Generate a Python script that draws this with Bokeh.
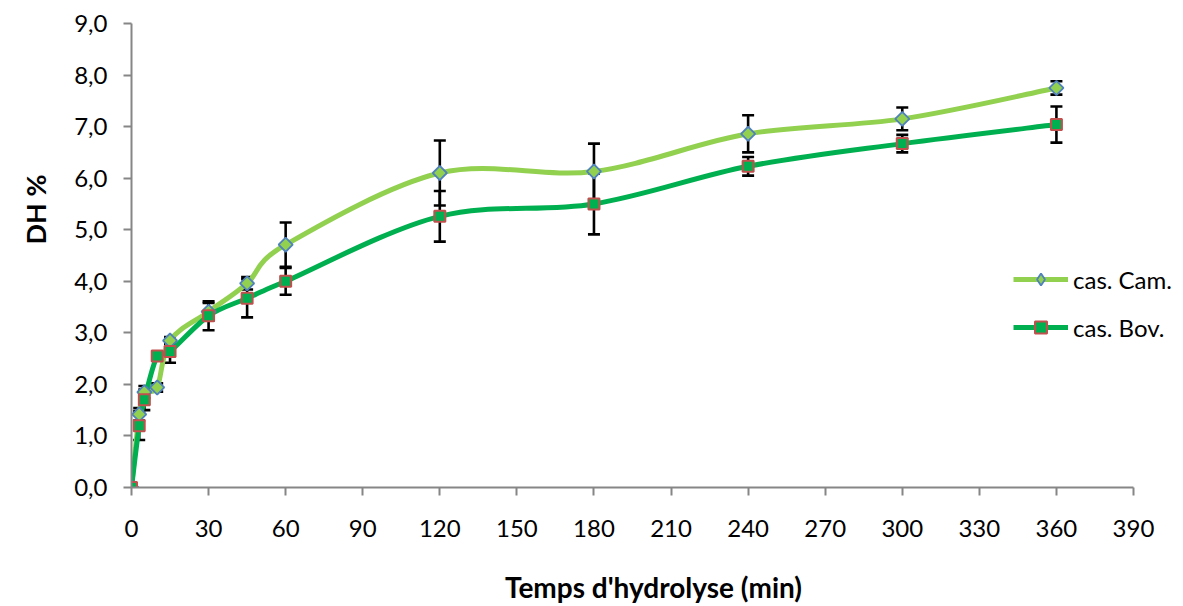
import numpy as np
from bokeh.plotting import figure
from bokeh.models import (Range1d, FixedTicker, ColumnDataSource, Whisker, TeeHead,
                          Legend, LegendItem, Title)
from bokeh.embed import file_html
from bokeh.resources import INLINE

# ---- data ----
time_min = [0, 3, 5, 10, 15, 30, 45, 60, 120, 180, 240, 300, 360]
cas_cam = [0, 1.42, 1.85, 1.94, 2.85, 3.41, 3.96, 4.71, 6.10, 6.13, 6.86, 7.15, 7.75]
cas_cam_err = [0, 0.12, 0.12, 0.08, 0.07, 0.17, 0.12, 0.43, 0.63, 0.54, 0.36, 0.22, 0.13]
cas_bov = [0, 1.20, 1.70, 2.55, 2.64, 3.33, 3.67, 4.00, 5.26, 5.50, 6.23, 6.67, 7.04]
cas_bov_err = [0, 0.28, 0.20, 0.05, 0.22, 0.28, 0.37, 0.26, 0.49, 0.59, 0.18, 0.17, 0.35]
x_ticks = list(range(0, 391, 30))
y_ticks = [0, 1, 2, 3, 4, 5, 6, 7, 8, 9]
y_tick_labels = ["0,0", "1,0", "2,0", "3,0", "4,0", "5,0", "6,0", "7,0", "8,0", "9,0"]
series_names = ["cas. Cam.", "cas. Bov."]

FONT = "Lato"
AXIS_GREY = "#868686"
CAM_LINE = "#92D050"
BOV_LINE = "#00B050"

W, H = 1183, 606
LEFT, TOP, BOTTOM, RIGHT = 131, 23, 115, 8
AXIS_PX = 1002          # pixels covered by the 0..390 axis
X_MAX = 390 * (W - LEFT - RIGHT) / AXIS_PX


def smooth_segments(xs, ys):
    """Catmull-Rom style Bezier control points (Excel-like smoothed line)."""
    xs = np.asarray(xs, float)
    ys = np.asarray(ys, float)
    n = len(xs)
    d = dict(x0=[], y0=[], x1=[], y1=[], cx0=[], cy0=[], cx1=[], cy1=[])
    for i in range(n - 1):
        p0 = max(i - 1, 0)
        p3 = min(i + 2, n - 1)
        d["x0"].append(xs[i]); d["y0"].append(ys[i])
        d["x1"].append(xs[i + 1]); d["y1"].append(ys[i + 1])
        d["cx0"].append(xs[i] + (xs[i + 1] - xs[p0]) / 6.0)
        d["cy0"].append(ys[i] + (ys[i + 1] - ys[p0]) / 6.0)
        d["cx1"].append(xs[i + 1] - (xs[p3] - xs[i]) / 6.0)
        d["cy1"].append(ys[i + 1] - (ys[p3] - ys[i]) / 6.0)
    return ColumnDataSource(d)


p = figure(width=W, height=H, x_range=Range1d(0, X_MAX), y_range=Range1d(0, 9),
           output_backend="svg", toolbar_location=None,
           min_border_left=LEFT, min_border_right=RIGHT, min_border_top=TOP,
           min_border_bottom=BOTTOM)
p.outline_line_color = None
p.grid.visible = False
p.background_fill_color = "white"
p.border_fill_color = "white"

# axes
for ax in (p.xaxis[0], p.yaxis[0]):
    ax.axis_line_color = AXIS_GREY
    ax.axis_line_width = 2
    ax.major_tick_line_color = AXIS_GREY
    ax.major_tick_line_width = 2
    ax.major_tick_out = 8
    ax.major_tick_in = 0
    ax.minor_tick_line_color = None
    ax.major_label_text_font = FONT
    ax.major_label_text_font_size = "24px"
    ax.major_label_text_color = "black"

p.xaxis.ticker = FixedTicker(ticks=x_ticks)
p.xaxis.bounds = (0, 390)
p.xaxis.major_label_standoff = 24
p.xaxis.axis_label = "Temps d'hydrolyse (min)"
p.xaxis.axis_label_text_font = FONT
p.xaxis.axis_label_text_font_style = "bold"
p.xaxis.axis_label_text_font_size = "28px"
p.xaxis.axis_label_text_color = "black"
p.xaxis.axis_label_standoff = 30

p.yaxis.ticker = FixedTicker(ticks=y_ticks)
p.yaxis.major_label_overrides = {t: s for t, s in zip(y_ticks, y_tick_labels)}
p.yaxis.major_label_standoff = 16

ytitle = Title(text="DH %", align="left", offset=243, standoff=35, vertical_align="top",
               text_font=FONT, text_font_style="bold", text_font_size="27px",
               text_color="black")
p.add_layout(ytitle, "left")

# smoothed lines
p.bezier(source=smooth_segments(time_min, cas_cam), x0="x0", y0="y0", x1="x1", y1="y1",
         cx0="cx0", cy0="cy0", cx1="cx1", cy1="cy1", line_color=CAM_LINE, line_width=5,
         line_cap="round")
p.bezier(source=smooth_segments(time_min, cas_bov), x0="x0", y0="y0", x1="x1", y1="y1",
         cx0="cx0", cy0="cy0", cx1="cx1", cy1="cy1", line_color=BOV_LINE, line_width=5,
         line_cap="round")

# error bars
for vals, errs in ((cas_cam, cas_cam_err), (cas_bov, cas_bov_err)):
    idx = [i for i, e in enumerate(errs) if e > 0]
    src = ColumnDataSource(dict(x=[time_min[i] for i in idx],
                                lo=[vals[i] - errs[i] for i in idx],
                                hi=[vals[i] + errs[i] for i in idx]))
    w = Whisker(source=src, base="x", lower="lo", upper="hi", line_color="black",
                line_width=2.6,
                upper_head=TeeHead(size=12, line_color="black", line_width=2.6),
                lower_head=TeeHead(size=12, line_color="black", line_width=2.6))
    p.add_layout(w)

# markers
cam_pts = p.scatter(time_min, cas_cam, marker="square", angle=np.pi / 4, size=10,
                    fill_color=CAM_LINE, line_color="#4F81BD", line_width=1.8)
bov_pts = p.scatter(time_min, cas_bov, marker="square", size=11,
                    fill_color=BOV_LINE, line_color="#C0504D", line_width=2)

# legend proxies (placed off-range, only used for the legend swatch)
cam_leg_line = p.line([-100, -90], [-5, -5], line_color=CAM_LINE, line_width=5)
bov_leg_line = p.line([-100, -90], [-5, -5], line_color=BOV_LINE, line_width=5)
cam_leg_pt = p.scatter([-100], [-5], marker="diamond", fill_color=CAM_LINE,
                       line_color="#4F81BD", line_width=1.8)
bov_leg_pt = p.scatter([-100], [-5], marker="square", fill_color=BOV_LINE,
                       line_color="#C0504D", line_width=2)

legend = Legend(items=[LegendItem(label=series_names[0], renderers=[cam_leg_line, cam_leg_pt]),
                       LegendItem(label=series_names[1], renderers=[bov_leg_line, bov_leg_pt])],
                location=(1013 - LEFT, 145), orientation="vertical",
                glyph_width=55, glyph_height=30, label_standoff=5, spacing=18,
                padding=0, margin=0, border_line_color=None, background_fill_alpha=0,
                label_text_font=FONT, label_text_font_size="24px", label_text_color="black",
                label_height=20)
p.add_layout(legend, "center")

open("out.html", "w").write(file_html(p, INLINE))
